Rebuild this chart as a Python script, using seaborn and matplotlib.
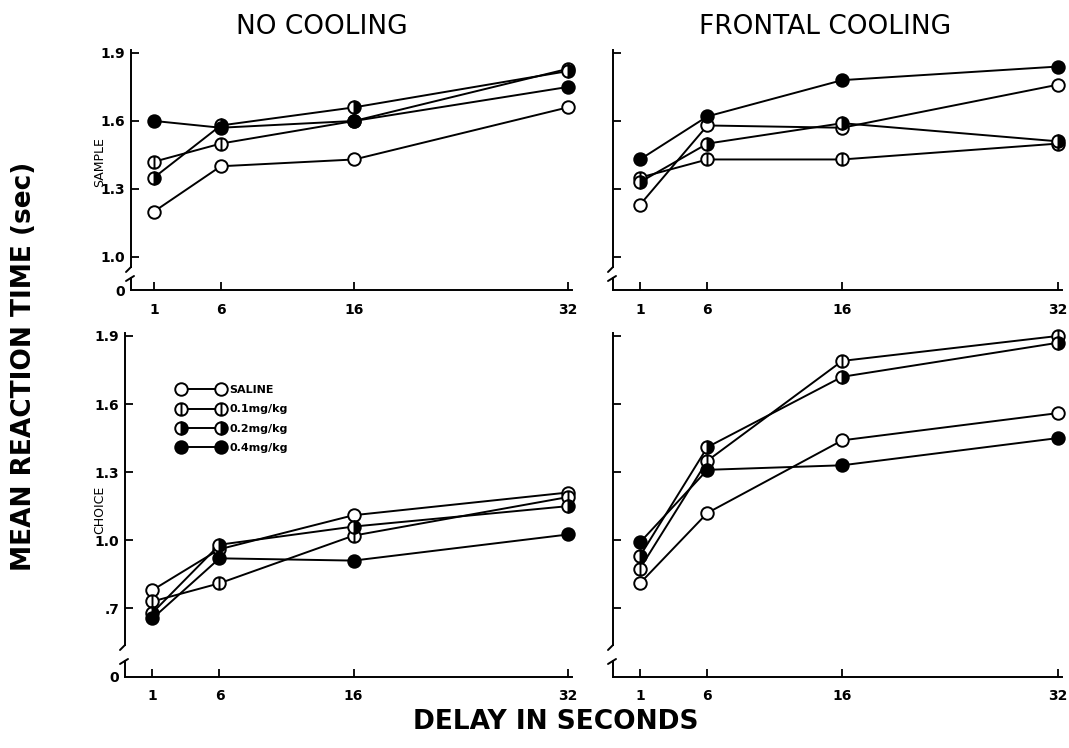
import pandas as pd
import matplotlib.pyplot as plt
import seaborn as sns
from matplotlib.path import Path

# delay (sec) and drug dose groups
delays = [1, 6, 16, 32]
doses = ["SALINE", "0.1mg/kg", "0.2mg/kg", "0.4mg/kg"]

# mean reaction time (sec); one row per dose, in the order of `doses`
sample_no_cooling = [
    [1.20, 1.40, 1.43, 1.66],
    [1.42, 1.50, 1.60, 1.83],
    [1.35, 1.58, 1.66, 1.82],
    [1.60, 1.57, 1.60, 1.75],
]
sample_frontal = [
    [1.23, 1.58, 1.57, 1.76],
    [1.35, 1.43, 1.43, 1.50],
    [1.33, 1.50, 1.59, 1.51],
    [1.43, 1.62, 1.78, 1.84],
]
choice_no_cooling = [
    [0.78, 0.96, 1.11, 1.21],
    [0.73, 0.81, 1.02, 1.19],
    [0.68, 0.98, 1.06, 1.15],
    [0.655, 0.92, 0.91, 1.025],
]
choice_frontal = [
    [0.81, 1.12, 1.44, 1.56],
    [0.875, 1.35, 1.79, 1.90],
    [0.93, 1.41, 1.72, 1.87],
    [0.99, 1.31, 1.33, 1.45],
]

sample_ticks = [1.0, 1.3, 1.6, 1.9]
sample_labels = ["1.0", "1.3", "1.6", "1.9"]
choice_ticks = [0.7, 1.0, 1.3, 1.6, 1.9]
choice_labels = [".7", "1.0", "1.3", "1.6", "1.9"]


def to_long(rows):
    recs = []
    for dose, vals in zip(doses, rows):
        for d, v in zip(delays, vals):
            recs.append({"delay": d, "rt": v, "dose": dose})
    return pd.DataFrame(recs)


sns.set_style("ticks")
plt.rcParams["font.family"] = ["DejaVu Sans"]
plt.rcParams.update({"text.color": "black", "axes.labelcolor": "black",
                     "xtick.color": "black", "ytick.color": "black",
                     "axes.edgecolor": "black"})

# circle with a vertical bar for 0.1 mg/kg
bar_circle = Path.make_compound_path(
    Path.unit_circle(),
    Path([[0, -1], [0, 1]], [Path.MOVETO, Path.LINETO]),
)

common = dict(color="black", linewidth=1.4, markersize=9,
              markeredgecolor="black", markeredgewidth=1.4)
styles = {
    "SALINE": dict(marker="o", markerfacecolor="white"),
    "0.1mg/kg": dict(marker=bar_circle, markerfacecolor="white"),
    "0.2mg/kg": dict(marker="o", fillstyle="right", markerfacecolor="black",
                     markerfacecoloralt="white"),
    "0.4mg/kg": dict(marker="o", markerfacecolor="black"),
}

W, H = 1069, 748
fig = plt.figure(figsize=(W / 100, H / 100), dpi=100)


def panel(px_left, px_right, px_top, px_bottom, rows, ticks, labels,
          ylim, xlim, gap_hi, gap_lo):
    ax = fig.add_axes([px_left / W, 1 - px_bottom / H,
                       (px_right - px_left) / W, (px_bottom - px_top) / H])
    df = to_long(rows)
    for z, dose in enumerate(doses):
        sns.lineplot(data=df[df["dose"] == dose], x="delay", y="rt",
                     ax=ax, errorbar=None, label=dose, zorder=3 + z,
                     clip_on=False, **common, **styles[dose])
    ax.set_xlim(*xlim)
    ax.set_ylim(*ylim)
    ax.set_xticks(delays)
    ax.set_xticklabels([str(d) for d in delays])
    ax.set_yticks([ylim[0]] + ticks)
    ax.set_yticklabels(["0"] + labels)
    ax.yaxis.get_major_ticks()[0].tick1line.set_visible(False)
    ax.tick_params(direction="in", length=6, width=1.3, labelsize=10,
                   pad=4)
    ax.tick_params(axis="x", pad=9)
    for lab in ax.get_xticklabels() + ax.get_yticklabels():
        lab.set_fontweight("bold")
    ax.set_xlabel("")
    ax.set_ylabel("")
    sns.despine(ax=ax)
    ax.spines["bottom"].set_linewidth(1.4)
    ax.spines["left"].set_linewidth(1.4)
    # broken y axis
    h = px_bottom - px_top
    w = px_right - px_left
    span = ylim[1] - ylim[0]
    ax.spines["left"].set_bounds(ylim[0] + gap_hi / h * span, ylim[1])
    kw = dict(transform=ax.transAxes, color="black", lw=1.4, clip_on=False)
    ax.plot([0, 0], [0, gap_lo / h], **kw)
    ax.plot([-5 / w, 0], [(gap_hi - 5) / h, gap_hi / h], **kw)
    ax.plot([-5 / w, 3 / w], [(gap_lo - 3) / h, (gap_lo + 2) / h], **kw)
    ax.legend_.remove()
    return ax


panel(131, 572, 50, 290, sample_no_cooling, sample_ticks, sample_labels,
      (0.854, 1.913), (-0.72, 32.3), 23, 12)
panel(613, 1062, 50, 290, sample_frontal, [], [],
      (0.854, 1.913), (-1.0, 32.3), 23, 12)
ax_bl = panel(125, 572, 333, 677, choice_no_cooling, choice_ticks,
              choice_labels, (0.397, 1.913), (-1.05, 32.3), 32, 16)
ax_br = panel(613, 1062, 333, 677, choice_frontal, [], [],
              (0.397, 1.913), (-1.0, 32.3), 32, 16)

# right panels share the left scale, ticks without labels
for ax, ticks, lim in [(fig.axes[1], sample_ticks, 0.854),
                       (ax_br, choice_ticks, 0.397)]:
    ax.set_yticks([lim] + ticks)
    ax.set_yticklabels([""] * (len(ticks) + 1))
    ax.yaxis.get_major_ticks()[0].tick1line.set_visible(False)

handles, labels = ax_bl.get_legend_handles_labels()
leg = ax_bl.legend(handles, labels, loc="upper left",
                   bbox_to_anchor=(168 / W, 1 - 375 / H),
                   bbox_transform=fig.transFigure, frameon=False,
                   numpoints=2, handlelength=4.2, labelspacing=0.85,
                   handletextpad=0.4, prop={"size": 8, "weight": "bold"})

fig.text(322 / W, 1 - 27 / H, "NO COOLING", ha="center", va="center",
         fontsize=19)
fig.text(825 / W, 1 - 27 / H, "FRONTAL COOLING", ha="center", va="center",
         fontsize=19)
fig.text(100 / W, 1 - 162 / H, "SAMPLE", rotation=90, ha="center",
         va="center", fontsize=9)
fig.text(100 / W, 1 - 510 / H, "CHOICE", rotation=90, ha="center",
         va="center", fontsize=9)
fig.text(24 / W, 1 - 366 / H, "MEAN REACTION TIME (sec)", rotation=90,
         ha="center", va="center", fontsize=19, fontweight="bold")
fig.text(556 / W, 1 - 722 / H, "DELAY IN SECONDS", ha="center",
         va="center", fontsize=19, fontweight="bold")

fig.savefig("out.png", dpi=100)
